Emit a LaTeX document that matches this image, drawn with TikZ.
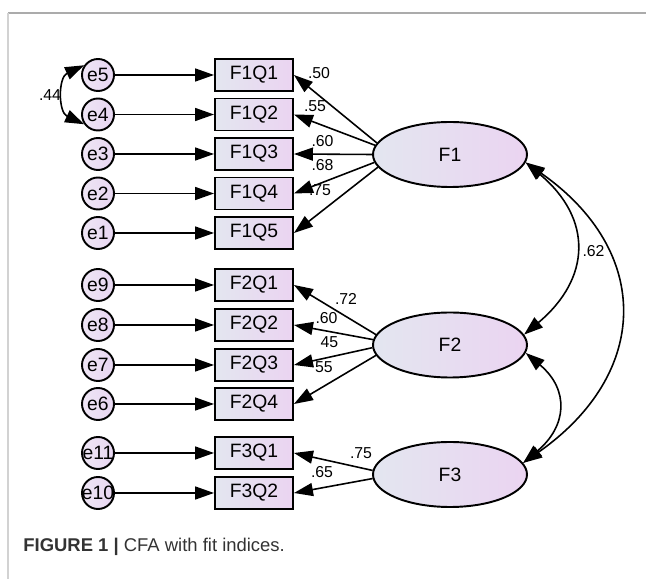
\documentclass[tikz,border=0pt]{standalone}
\usepackage{fontspec}
\setmainfont{Liberation Sans}
\usepackage{tikz}
\usetikzlibrary{arrows.meta,shapes.geometric}
\definecolor{shadeL}{HTML}{E3E6F0}
\definecolor{shadeR}{HTML}{EBD4F1}
\definecolor{errL}{HTML}{EFE6F5}
\definecolor{errR}{HTML}{E7D5F1}
\definecolor{frameTop}{HTML}{ABABAB}
\definecolor{frameLeft}{HTML}{D2D2D2}
\definecolor{capGray}{HTML}{333333}

\begin{document}
\begin{tikzpicture}[
  font=\fontsize{11}{12}\selectfont,
  item/.style={draw,line width=1.1pt,rectangle,
               minimum width=1.56cm,minimum height=0.64cm,inner sep=0pt,
               left color=shadeL,right color=shadeR},
  latent/.style={draw,line width=1.1pt,ellipse,
                 minimum width=3.08cm,minimum height=1.30cm,inner sep=0pt,
                 left color=shadeL,right color=shadeR},
  err/.style={draw,line width=1.1pt,circle,minimum size=0.64cm,inner sep=0pt,
              left color=errL,right color=errR},
  arr/.style={-{Triangle[length=0.38cm,width=0.26cm]},line width=0.9pt},
  cov/.style={{Triangle[length=0.38cm,width=0.26cm]}-{Triangle[length=0.38cm,width=0.26cm]},
              line width=0.9pt},
  lbl/.style={font=\fontsize{9}{10}\selectfont,inner sep=0pt}
]
\useasboundingbox (0,0) rectangle (12.92,-11.58);

% Frame
\draw[frameTop,line width=0.6pt] (0.16,-0.26) -- (12.92,-0.26);
\draw[frameLeft,line width=1pt] (0.16,-0.26) -- (0.16,-11.58);

% Error terms
\node[err] (e5)  at (1.96,-1.50) {e5};
\node[err] (e4)  at (1.96,-2.29) {e4};
\node[err] (e3)  at (1.96,-3.08) {e3};
\node[err] (e2)  at (1.96,-3.87) {e2};
\node[err] (e1)  at (1.96,-4.66) {e1};
\node[err] (e9)  at (1.96,-5.70) {e9};
\node[err] (e8)  at (1.96,-6.50) {e8};
\node[err] (e7)  at (1.96,-7.30) {e7};
\node[err] (e6)  at (1.96,-8.08) {e6};
\node[err] (e11) at (1.96,-9.06) {\makebox[0pt]{e11}};
\node[err] (e10) at (1.96,-9.86) {\makebox[0pt]{e10}};

% Items
\node[item] (F1Q1) at (5.08,-1.50) {F1Q1};
\node[item] (F1Q2) at (5.08,-2.29) {F1Q2};
\node[item] (F1Q3) at (5.08,-3.08) {F1Q3};
\node[item] (F1Q4) at (5.08,-3.87) {F1Q4};
\node[item] (F1Q5) at (5.08,-4.66) {F1Q5};
\node[item] (F2Q1) at (5.08,-5.70) {F2Q1};
\node[item] (F2Q2) at (5.08,-6.50) {F2Q2};
\node[item] (F2Q3) at (5.08,-7.30) {F2Q3};
\node[item] (F2Q4) at (5.08,-8.08) {F2Q4};
\node[item] (F3Q1) at (5.08,-9.06) {F3Q1};
\node[item] (F3Q2) at (5.08,-9.86) {F3Q2};

% Factors
\node[latent] (F1) at (9.00,-3.09) {F1};
\node[latent] (F2) at (9.00,-6.90) {F2};
\node[latent] (F3) at (9.00,-9.49) {F3};

% Error paths
\draw[arr] (e5)  -- (F1Q1);
\draw[arr] (e4)  -- (F1Q2);
\draw[arr] (e3)  -- (F1Q3);
\draw[arr] (e2)  -- (F1Q4);
\draw[arr] (e1)  -- (F1Q5);
\draw[arr] (e9)  -- (F2Q1);
\draw[arr] (e8)  -- (F2Q2);
\draw[arr] (e7)  -- (F2Q3);
\draw[arr] (e6)  -- (F2Q4);
\draw[arr] (e11) -- (F3Q1);
\draw[arr] (e10) -- (F3Q2);

% Loadings
\draw[arr] (F1.171) -- (F1Q1.east);
\draw[arr] (F1.173) -- (F1Q2.east);
\draw[arr] (F1.180) -- (F1Q3.east);
\draw[arr] (F1.186) -- (F1Q4.east);
\draw[arr] (F1.190) -- (F1Q5.east);
\draw[arr] (F2.172) -- (F2Q1.east);
\draw[arr] (F2.176) -- (F2Q2.east);
\draw[arr] (F2.182) -- (F2Q3.east);
\draw[arr] (F2.188) -- (F2Q4.east);
\draw[arr] (F3.177) -- (F3Q1.east);
\draw[arr] (F3.183) -- (F3Q2.east);

\node[lbl] (l11) at (6.38,-1.46) {.50};
\node[lbl] (l12) at (6.30,-2.13) {.55};
\node[lbl] (l13) at (6.45,-2.83) {.60};
\node[lbl] (l14) at (6.45,-3.30) {.68};
\node[lbl] (l15) at (6.40,-3.80) {.75};
\node[lbl] (l21) at (6.92,-5.98) {.72};
\node[lbl] (l22) at (6.53,-6.36) {.60};
\node[lbl] (l23) at (6.59,-6.84) {45};
\node[lbl] (l24) at (6.48,-7.34) {55};
\node[lbl] (l31) at (7.22,-9.07) {.75};
\node[lbl] (l32) at (6.44,-9.44) {.65};

% Covariances
\draw[cov] (e5.145) to[out=205,in=155,looseness=1.25] (e4.215);
\node[lbl] (c54) at (1.00,-1.90) {.44};

\draw[cov] (F1.-6) to[out=-40,in=40,looseness=1.3] (F2.8);
\draw[cov] (F1.-6) to[out=-35,in=35,looseness=1.32] (F3.9);
\draw[cov] (F2.-6) to[out=-40,in=40,looseness=1.33] (F3.9);
\node[lbl] (c12) at (11.87,-5.02) {.62};

% Caption
\node[anchor=west,text=capGray,inner sep=0pt,
      font=\fontsize{10.5}{12}\selectfont] (cap) at (0.46,-10.94)
  {\textbf{FIGURE 1} \textbf{|} CFA with fit indices.};

\end{tikzpicture}
\end{document}
